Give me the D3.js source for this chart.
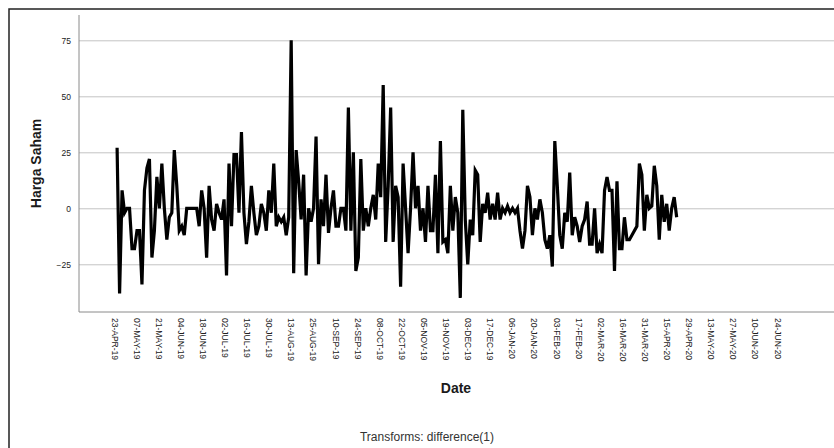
<!DOCTYPE html>
<html>
<head>
<meta charset="utf-8">
<script src="https://cdn.jsdelivr.net/npm/d3@7"></script>
<style>
  body { margin: 0; background: #fff; }
  text { font-family: "Liberation Sans", Arial, sans-serif; }
</style>
</head>
<body>
<svg id="chart" width="834" height="448"></svg>
<script>
// tick labels on the date axis, one every 10 observations
var dateLabels = ["23-APR-19", "07-MAY-19", "21-MAY-19", "04-JUN-19", "18-JUN-19", "02-JUL-19",
  "16-JUL-19", "30-JUL-19", "13-AUG-19", "25-AUG-19", "10-SEP-19", "24-SEP-19", "08-OCT-19",
  "22-OCT-19", "05-NOV-19", "19-NOV-19", "03-DEC-19", "17-DEC-19", "06-JAN-20", "20-JAN-20",
  "03-FEB-20", "17-FEB-20", "02-MAR-20", "16-MAR-20", "31-MAR-20", "15-APR-20", "29-APR-20",
  "13-MAY-20", "27-MAY-20", "10-JUN-20", "24-JUN-20"];

var yTicks = [-25, 0, 25, 50, 75];

var firstObs = 1.4;
var lastObs = 254.6;

// differenced share price, difference(1)
var hargaDiff = [
  27, -38, 8, -2, 0, 0, -18, -18, -10, -10,
  -34, 8, 18, 22, -22, -10, 14, 0, 20, 0,
  -14, -4, -2, 26, 10, -10, -8, -12, 0, 0,
  0, 0, 0, -8, 8, 0, -22, 10, -5, -10,
  2, -2, -5, 4, -30, 20, -8, 24, 24, -2,
  34, -2, -16, -6, 10, -2, -12, -8, 2, -2,
  -10, 8, -2, 20, -8, -4, -6, -4, -12, -4,
  75, -29, 26, 12, -5, 15, -30, 0, -6, 0,
  32, -25, 4, -8, 15, -11, 0, 8, -8, -8,
  0, 0, -10, 45, -10, 25, -28, -22, 22, -10,
  0, -8, 0, 6, -5, 20, 5, 55, -15, 10,
  45, -15, 10, 5, -35, 20, 0, -20, 0, 25,
  0, 10, -10, 0, -15, 10, -10, -10, 15, -20,
  30, -15, -14, -20, 10, -10, 5, -2, -40, 44,
  -5, -25, -5, -12, 17, 15, -15, 2, -2, 7,
  -5, 2, -5, 7, -5, 0, -2, 1, -2, 0,
  -2, 0, -10, -18, -10, 10, 5, -12, 0, -5,
  4, -2, -14, -18, -12, -26, 30, 10, -12, -18,
  -2, -6, 16, -12, -4, -8, -15, -8, -5, 3,
  -16, -16, 0, -20, -16, -20, 8, 14, 8, 8,
  -28, 12, -18, -18, -4, -14, -14, -12, -10, -8,
  20, 15, -10, 6, 0, 1, 19, 10, -14, 6,
  -6, 2, -10, 0, 5, -4
];

var W = 834, H = 448;
var svg = d3.select("#chart");

svg.append("rect").attr("width", W).attr("height", H).attr("fill", "#fff");

// outer frame of the output viewer
svg.append("rect")
  .attr("x", 9).attr("y", 9)
  .attr("width", W + 20).attr("height", H + 20)
  .attr("fill", "none")
  .attr("stroke", "#222")
  .attr("stroke-width", 1.5);

var plotLeft = 79, plotTop = 15, plotBottom = 312;

var x = d3.scaleLinear().domain([0, 300]).range([114, 777]);
var y = d3.scaleLinear().domain([-46.3, 86.3]).range([plotBottom, plotTop]);

// gridlines
svg.append("g")
  .attr("transform", "translate(" + plotLeft + ",0)")
  .call(d3.axisLeft(y).tickValues(yTicks).tickSize(-(W - plotLeft)).tickFormat(""))
  .call(function (g) { g.select(".domain").remove(); })
  .selectAll("line")
    .attr("stroke", "#c4c4c4")
    .attr("stroke-width", 1);

// y axis
var yAxis = svg.append("g")
  .attr("transform", "translate(" + plotLeft + ",0)")
  .call(d3.axisLeft(y).tickValues(yTicks).tickSize(0).tickPadding(8));
yAxis.select(".domain").remove();
yAxis.selectAll("text")
  .attr("fill", "#222")
  .style("font-size", "8.5px");

svg.append("line")
  .attr("x1", plotLeft).attr("x2", plotLeft)
  .attr("y1", plotTop).attr("y2", plotBottom)
  .attr("stroke", "#8a8a8a");

// x axis
var xAxis = svg.append("g")
  .attr("transform", "translate(0," + plotBottom + ")")
  .call(d3.axisBottom(x)
    .tickValues(d3.range(0, 301, 10))
    .tickSize(0)
    .tickFormat(function (d, i) { return dateLabels[i]; }));
xAxis.select(".domain").remove();
xAxis.selectAll("text")
  .attr("y", 0)
  .attr("x", 6)
  .attr("dy", "0.35em")
  .attr("transform", "rotate(90)")
  .style("text-anchor", "start")
  .style("font-size", "8.5px")
  .attr("fill", "#222");

svg.append("line")
  .attr("x1", plotLeft).attr("x2", W)
  .attr("y1", plotBottom).attr("y2", plotBottom)
  .attr("stroke", "#8a8a8a");

// series
var step = (lastObs - firstObs) / (hargaDiff.length - 1);
var line = d3.line()
  .x(function (d, i) { return x(firstObs + i * step); })
  .y(function (d) { return y(d); });

svg.append("path")
  .datum(hargaDiff)
  .attr("fill", "none")
  .attr("stroke", "#000")
  .attr("stroke-width", 3.2)
  .attr("stroke-linejoin", "miter")
  .attr("d", line);

// titles
svg.append("text")
  .attr("transform", "rotate(-90)")
  .attr("x", -(plotTop + plotBottom) / 2)
  .attr("y", 41)
  .attr("text-anchor", "middle")
  .style("font-size", "14px")
  .style("font-weight", "bold")
  .attr("fill", "#1a1a1a")
  .text("Harga Saham");

svg.append("text")
  .attr("x", 456)
  .attr("y", 393)
  .attr("text-anchor", "middle")
  .style("font-size", "14px")
  .style("font-weight", "bold")
  .attr("fill", "#1a1a1a")
  .text("Date");

svg.append("text")
  .attr("x", 427)
  .attr("y", 441)
  .attr("text-anchor", "middle")
  .style("font-size", "12px")
  .attr("fill", "#333")
  .text("Transforms: difference(1)");
</script>
</body>
</html>
